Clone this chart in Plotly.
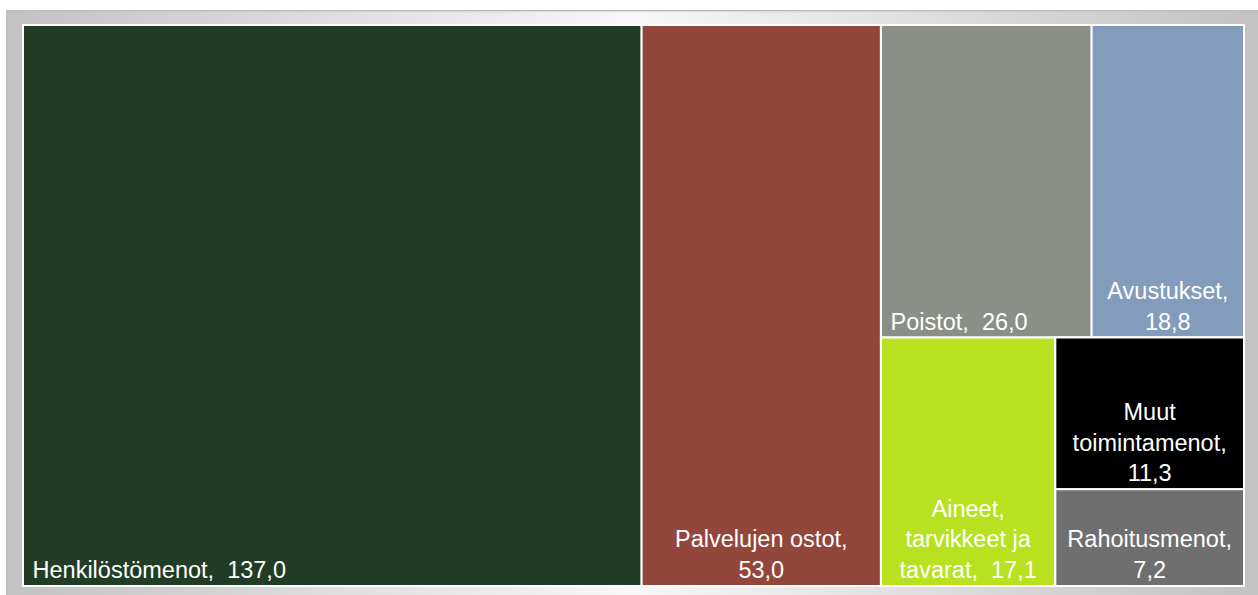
import base64
import plotly.graph_objects as go

# ---- data ----
categories = ["Henkilöstömenot", "Palvelujen ostot", "Poistot", "Avustukset",
              "Aineet, tarvikkeet ja tavarat", "Muut toimintamenot", "Rahoitusmenot"]
values = [137.0, 53.0, 26.0, 18.8, 17.1, 11.3, 7.2]
# how each label is wrapped in the tile (label part only)
label_wrapped = ["Henkilöstömenot,\u00a0 ", "Palvelujen ostot,<br>", "Poistot,\u00a0 ",
                 "Avustukset,<br>", "Aineet,<br>tarvikkeet ja<br>tavarat,\u00a0 ",
                 "Muut<br>toimintamenot,<br>", "Rahoitusmenot,<br>"]
# single-line labels sit bottom-left, wrapped labels bottom-centre
label_left = [True, False, True, False, False, False, False]
colors = ["#223D25", "#93463C", "#8A9088", "#839CBB", "#B8E21F", "#000000", "#6F6F6F"]
# tile grouping that reproduces the original arrangement
tile_group = ["", "", "top", "top", "bottom", "small", "small"]
groups = ["rest", "top", "bottom", "small"]
group_parents = ["", "rest", "rest", "bottom"]


def fmt(v):
    return f"{v:.1f}".replace(".", ",")


ids = categories + groups
parents = tile_group + group_parents
vals = values + [0] * len(groups)
full_text = [lw + fmt(v) for lw, v in zip(label_wrapped, values)]
text_left = ["\u00a0" + t if left else "" for t, left in zip(full_text, label_left)] + [""] * len(groups)
text_center = [t if not left else "" for t, left in zip(full_text, label_left)] + [""] * len(groups)
tile_colors = colors + ["#FFFFFF"] * len(groups)

W, H = 1258, 595
dom = dict(x=[23 / W, 1244 / W], y=[9 / H, 1 - 25 / H])
font = dict(family="Arial, Liberation Sans, sans-serif", size=23.5, color="#FFFFFF")

common = dict(ids=ids, labels=ids, parents=parents, values=vals,
              branchvalues="remainder", sort=False, texttemplate="%{text}",
              tiling=dict(packing="slice-dice", pad=0), pathbar=dict(visible=False),
              domain=dom, textfont=font)

fig = go.Figure()
fig.add_trace(go.Treemap(
    text=text_left, textposition="bottom left",
    marker=dict(colors=tile_colors, line=dict(color="#FFFFFF", width=2),
                pad=dict(t=0, l=0, r=0, b=0)),
    hovertemplate="%{id}: %{value}<extra></extra>",
    **common))
fig.add_trace(go.Treemap(
    text=text_center, textposition="bottom center",
    marker=dict(colors=["rgba(0,0,0,0)"] * len(ids), line=dict(color="rgba(0,0,0,0)", width=0),
                pad=dict(t=0, l=0, r=0, b=0)),
    hovertemplate="%{id}: %{value}<extra></extra>",
    **common))

svg = (
    '<svg xmlns="http://www.w3.org/2000/svg" width="1252" height="585" preserveAspectRatio="none">'
    '<defs><linearGradient id="g" x1="0" y1="0" x2="1" y2="0">'
    '<stop offset="0" stop-color="#c2c2c2"/><stop offset="0.5" stop-color="#f7f7f7"/>'
    '<stop offset="1" stop-color="#c2c2c2"/></linearGradient></defs>'
    '<rect width="1252" height="585" fill="url(#g)"/>'
    '<rect x="0" y="0" width="1252" height="1.5" fill="#bdbdbd"/>'
    '<rect x="0" y="0" width="1.5" height="585" fill="#bdbdbd"/>'
    '</svg>'
)
src = "data:image/svg+xml;base64," + base64.b64encode(svg.encode()).decode()

fig.update_layout(
    width=W, height=H,
    margin=dict(l=0, r=0, t=0, b=0),
    paper_bgcolor="#FFFFFF",
    showlegend=False,
    images=[dict(source=src, xref="paper", yref="paper", x=6 / W, y=1 - 10 / H,
                 sizex=1 - 6 / W, sizey=1 - 10 / H, xanchor="left", yanchor="top",
                 sizing="stretch", layer="below")],
)

fig.write_html("out.html", config={"displayModeBar": False},
               post_script="document.body.style.margin='0';document.body.style.overflow='hidden';")
